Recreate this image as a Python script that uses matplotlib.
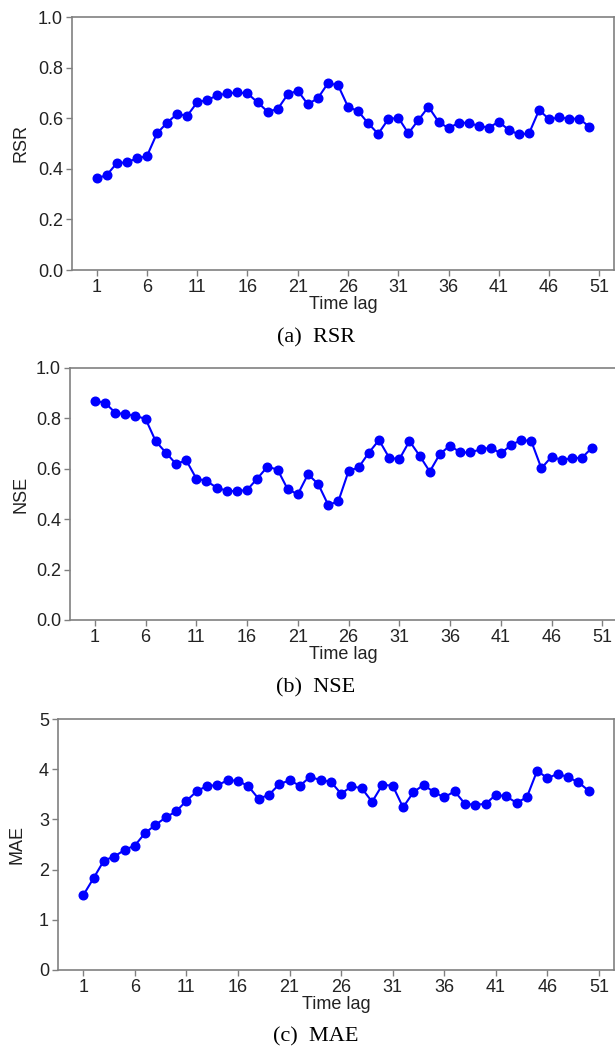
import matplotlib
matplotlib.use("Agg")
import matplotlib.pyplot as plt
import numpy as np

plt.rcParams['font.family'] = ['Liberation Sans', 'DejaVu Sans']

# time lags 1..50
lags = list(range(1, 51))

rsr = [0.362, 0.375, 0.422, 0.426, 0.441, 0.450, 0.540, 0.582, 0.617, 0.609,
       0.663, 0.672, 0.690, 0.698, 0.702, 0.698, 0.663, 0.626, 0.636, 0.694,
       0.709, 0.655, 0.679, 0.738, 0.731, 0.645, 0.628, 0.580, 0.538, 0.596,
       0.602, 0.540, 0.593, 0.645, 0.586, 0.560, 0.582, 0.582, 0.569, 0.563,
       0.586, 0.553, 0.536, 0.540, 0.632, 0.596, 0.603, 0.598, 0.598, 0.566]

nse = [0.869, 0.862, 0.823, 0.816, 0.810, 0.798, 0.709, 0.664, 0.619, 0.634,
       0.561, 0.552, 0.525, 0.513, 0.511, 0.516, 0.561, 0.608, 0.597, 0.519,
       0.499, 0.578, 0.540, 0.456, 0.472, 0.591, 0.606, 0.664, 0.714, 0.644,
       0.638, 0.710, 0.652, 0.589, 0.659, 0.692, 0.665, 0.665, 0.677, 0.684,
       0.661, 0.694, 0.714, 0.710, 0.602, 0.648, 0.635, 0.642, 0.644, 0.684]

mae = [1.49, 1.83, 2.18, 2.26, 2.39, 2.48, 2.73, 2.89, 3.04, 3.16,
       3.37, 3.56, 3.67, 3.68, 3.78, 3.77, 3.66, 3.41, 3.49, 3.70,
       3.78, 3.67, 3.85, 3.78, 3.75, 3.51, 3.66, 3.62, 3.35, 3.69,
       3.67, 3.24, 3.54, 3.69, 3.54, 3.44, 3.56, 3.31, 3.29, 3.31,
       3.49, 3.46, 3.33, 3.44, 3.97, 3.82, 3.91, 3.84, 3.74, 3.57]

xticks = list(range(1, 52, 5))

W, H = 615, 1049
fig = plt.figure(figsize=(W / 100, H / 100), dpi=100)


def px_axes(left, top, right, bottom):
    return fig.add_axes([left / W, 1 - bottom / H, (right - left) / W, (bottom - top) / H])


def panel(ax, y, ylabel, ylim, yticks, yfmt, caption, cap_y, lab_x):
    ax.plot(lags, y, '-o', color='blue', lw=1.5, ms=6.2)
    ax.set_xticks(xticks)
    ax.set_ylim(*ylim)
    ax.set_yticks(yticks)
    ax.set_yticklabels([yfmt.format(v) for v in yticks])
    ax.tick_params(labelsize=13, color='#808080', length=4, width=1,
                   labelcolor='#222222', pad=2.5)
    for s in ax.spines.values():
        s.set_color('#808080')
        s.set_linewidth(1.2)
    ax.set_xlabel('Time lag', fontsize=13, color='#222222', labelpad=0)
    ax.set_ylabel(ylabel, fontsize=13, color='#222222')
    ax.yaxis.set_label_coords(lab_x, 0.5)
    fig.text(316 / W, 1 - cap_y / H, caption, ha='center', va='center',
             fontsize=16, family='Liberation Serif')


ax1 = px_axes(72, 17, 614, 270)
panel(ax1, rsr, 'RSR', (0, 1.0), [0, 0.2, 0.4, 0.6, 0.8, 1.0], '{:.1f}',
      '(a)  RSR', 338, -0.078)

ax2 = px_axes(70, 368, 617, 620)
panel(ax2, nse, 'NSE', (0, 1.0), [0, 0.2, 0.4, 0.6, 0.8, 1.0], '{:.1f}',
      '(b)  NSE', 688, -0.074)

ax3 = px_axes(58, 719, 614, 970)
panel(ax3, mae, 'MAE', (0, 5), [0, 1, 2, 3, 4, 5], '{:d}',
      '(c)  MAE', 1037, -0.058)

fig.savefig('out.png', dpi=100)
